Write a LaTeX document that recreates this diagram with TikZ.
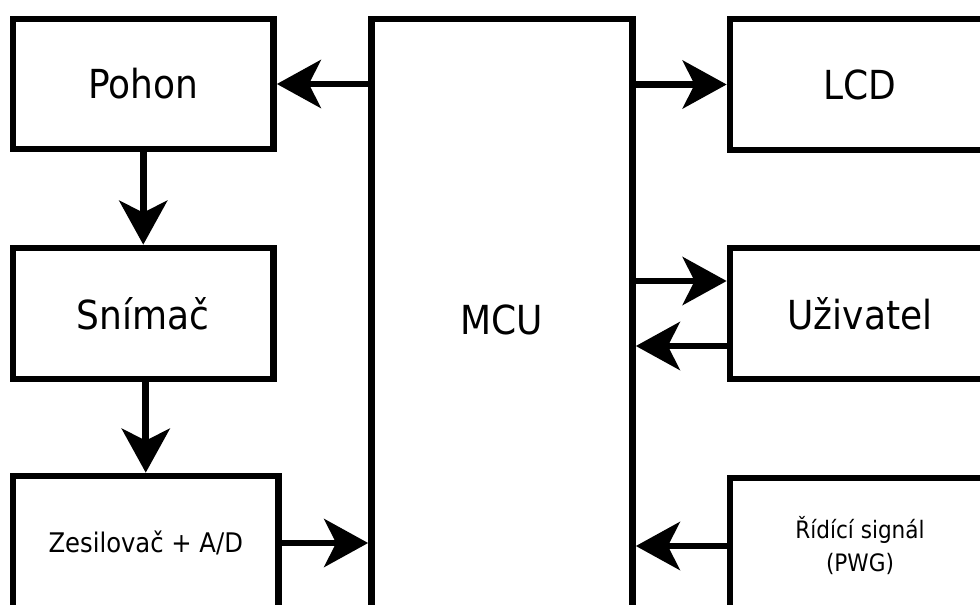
\documentclass[tikz,border=0pt]{standalone}
\usepackage{fontspec}
\setmainfont{DejaVu Sans Condensed}
\usetikzlibrary{arrows.meta}
\begin{document}
\begin{tikzpicture}[x=1pt,y=-1pt,
  blk/.style={draw, line width=6.7pt, rectangle, inner sep=0pt, font=\fontsize{40}{48}\selectfont},
  con/.style={line width=6.7pt, -{Stealth[length=44pt,width=48pt,inset=12pt]}}]
\useasboundingbox (0,0) rectangle (980,605);
\clip (0,0) rectangle (980,605);
\node[blk, minimum width=260.5pt, minimum height=130pt] (pohon) at (143.25,84) {Pohon};
\node[blk, minimum width=260.5pt, minimum height=131pt] (snimac) at (143.25,313.5) {Snímač};
\node[blk, minimum width=265.5pt, minimum height=134pt, font=\fontsize{27}{32}\selectfont] (zesil) at (145.75,543) {Zesilovač + A/D};
\node[blk, minimum width=261pt, minimum height=602pt] (mcu) at (502,320) {MCU};
\node[blk, minimum width=260pt, minimum height=131pt] (lcd) at (860,84.5) {LCD};
\node[blk, minimum width=260pt, minimum height=131pt] (uziv) at (860,313.5) {Uživatel};
\node[blk, minimum width=260pt, minimum height=136pt, align=center, font=\fontsize{24}{33}\selectfont] (ridici) at (860,546) {Řídící signál\\(PWG)};
\coordinate (uin) at ([yshift=32.5pt]uziv.west);
\coordinate (uout) at ([yshift=-32.5pt]uziv.west);
\draw[con] (mcu.west |- pohon.east) -- (pohon.east);
\draw[con] (mcu.east |- lcd.west) -- (lcd.west);
\draw[con] (pohon.south) -- (pohon.south |- snimac.north);
\draw[con] (snimac.south -| zesil.north) -- (zesil.north);
\draw[con] (zesil.east) -- (zesil.east -| mcu.west);
\draw[con] (mcu.east |- uin) -- (uin);
\draw[con] (uout) -- (mcu.east |- uout);
\draw[con] (ridici.west) -- (ridici.west -| mcu.east);
\end{tikzpicture}
\end{document}
